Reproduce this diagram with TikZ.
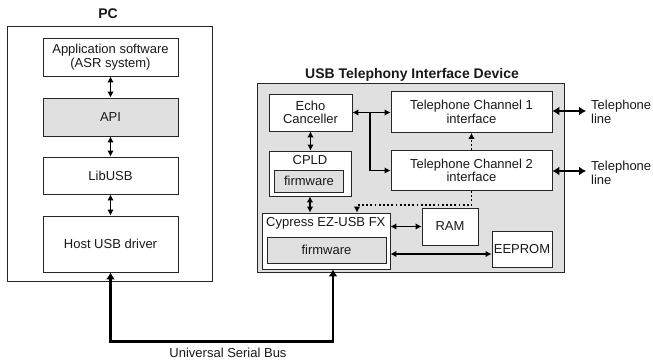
\documentclass[tikz,border=0pt]{standalone}
\usepackage{fontspec}
\setmainfont{Liberation Sans}
\usetikzlibrary{arrows.meta,calc}
\begin{document}
\begin{tikzpicture}[x=1pt,y=-1pt,
  txt/.style={font=\fontsize{13}{13.5}\selectfont, text=black!90, inner sep=0pt},
  ttl/.style={font=\fontsize{14}{14}\selectfont\bfseries, text=black!90, inner sep=0pt},
  box/.style={draw=black!85, line width=0.8pt, fill=white, inner sep=0pt, align=center, txt},
  gbox/.style={box, fill=black!12},
  frame/.style={draw=black!85, line width=0.8pt},
  gframe/.style={frame, fill=black!12},
  arr/.style={{Latex[length=6pt,width=6.5pt]}-{Latex[length=6pt,width=6.5pt]}, line width=1.4pt, draw=black},
  onearr/.style={-{Latex[length=6pt,width=6.5pt]}, line width=1.4pt, draw=black},
  dotarr/.style={-{Latex[length=6pt,width=6.5pt]}, line width=1.6pt, draw=black, dash pattern=on 1.8pt off 2.4pt},
  fatarr/.style={{Latex[length=7pt,width=9pt]}-{Latex[length=7pt,width=9pt]}, line width=2.8pt, draw=black},
]
\useasboundingbox (0,0) rectangle (653,361);

% PC
\node[ttl] (pctitle) at (108,14) {PC};
\node[frame, minimum width=205pt, minimum height=255pt, inner sep=0pt] (pc) at (109.5,153.5) {};
\node[box, minimum width=135pt, minimum height=38pt] (app) at (110.5,57) {Application software\\(ASR system)};
\node[gbox, minimum width=135pt, minimum height=38pt] (api) at (110.5,117) {API};
\node[box, minimum width=135pt, minimum height=37pt] (libusb) at (110.5,175.5) {LibUSB};
\node[box, minimum width=135pt, minimum height=56pt] (host) at (110.5,244) {Host USB driver};
\draw[arr] (app.south) -- (api.north);
\draw[arr] (api.south) -- (libusb.north);
\draw[arr] (libusb.south) -- (host.north);

% Device
\node[ttl] (devtitle) at (412,75) {USB Telephony Interface Device};
\node[gframe, minimum width=307pt, minimum height=189pt, inner sep=0pt] (dev) at (410.5,177.5) {};
\node[box, minimum width=83pt, minimum height=37pt] (echo) at (310.5,112.5) {Echo\\Canceller};
\node[box, minimum width=82pt, minimum height=45pt] (cpld) at (310,173.5) {};
\node[txt] (cpldlbl) at (310,160) {CPLD};
\node[gbox, minimum width=69pt, minimum height=22pt] (cfw) at (309,181) {firmware};
\node[box, minimum width=161pt, minimum height=41pt] (ch1) at (471.5,112) {Telephone Channel 1\\interface};
\node[box, minimum width=161pt, minimum height=40pt] (ch2) at (471.5,170.5) {Telephone Channel 2\\interface};
\node[box, minimum width=128pt, minimum height=56pt] (cyp) at (326,241) {};
\node[txt, anchor=west] (cyplbl) at (266,223) {Cypress EZ-USB FX};
\node[gbox, minimum width=119pt, minimum height=26pt] (yfw) at (326.5,250) {firmware};
\node[box, minimum width=56pt, minimum height=37pt] (ram) at (450,226.5) {RAM};
\node[box, minimum width=60pt, minimum height=36pt] (eeprom) at (522,249) {EEPROM};

\draw[arr] (echo.east) -- (echo.east -| ch1.west);
\coordinate (br) at (370,112.5);
\draw[onearr] (br) |- (ch2.west);
\draw[arr] (echo.south) -- (echo.south |- cpld.north);
\draw[arr] (cpld.south) -- (cpld.south |- cyp.north);
\draw[dotarr] (ch2.north) -- (ch1.south);
\draw[dotarr] (ch2.south) -- ++(0,14) -| ([xshift=31pt]cyp.north);
\draw[arr] (ram.west -| cyp.east) -- (ram.west);
\draw[arr] ($(eeprom.west -| cyp.east)+(0,5)$) -- ($(eeprom.west)+(0,5)$);

% telephone lines
\coordinate (t1) at (586,111);
\coordinate (t2) at (586,171);
\draw[fatarr] (ch1.east |- t1) -- (t1);
\draw[fatarr] (ch2.east |- t2) -- (t2);
\node[txt, anchor=west, align=left] (tl1) at (591,112) {Telephone\\line};
\node[txt, anchor=west, align=left] (tl2) at (591,173) {Telephone\\line};

% USB bus
\draw[fatarr] (host.south) -- ++(0,69) -| ([xshift=7pt]cyp.south);
\node[txt] (usblbl) at (228,353) {Universal Serial Bus};
\end{tikzpicture}
\end{document}
